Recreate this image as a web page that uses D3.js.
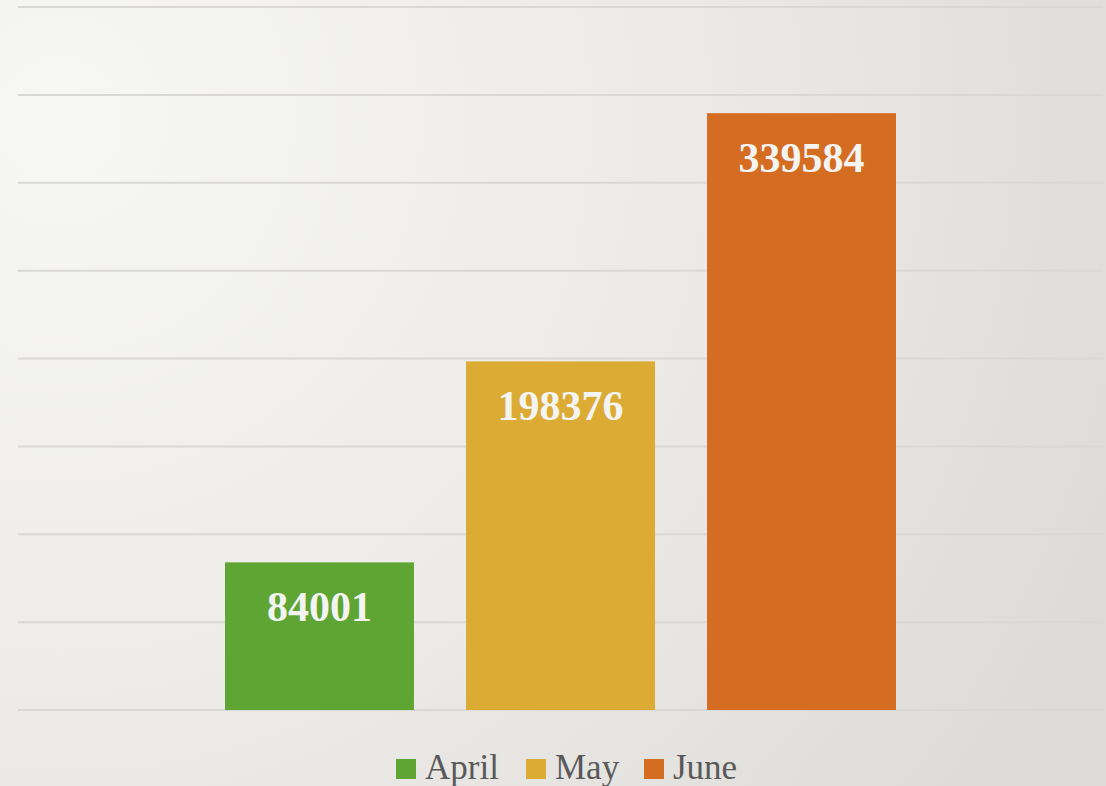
<!DOCTYPE html>
<html>
<head>
<meta charset="utf-8">
<script src="https://cdn.jsdelivr.net/npm/d3@7"></script>
<style>
  html, body { margin: 0; padding: 0; }
  body { width: 1106px; height: 786px; overflow: hidden; }
</style>
</head>
<body>
<div id="chart"></div>
<script>
// --- Data ---
const seriesNames = ["April", "May", "June"];
const seriesValues = [84001, 198376, 339584];
const seriesColors = ["#5fa533", "#dcab34", "#d46d22"];
const gridTicks = [0, 50000, 100000, 150000, 200000, 250000, 300000, 350000, 400000];

const width = 1106;
const height = 786;
const margin = { top: 7, right: 3, bottom: 76, left: 18 };
const fontFamily = "'Palatino Linotype', 'Book Antiqua', Palatino, 'Liberation Serif', 'DejaVu Serif', serif";

const svg = d3.select("#chart").append("svg")
    .attr("width", width)
    .attr("height", height);

// Background gradient (light top-left, greyer to the right)
const defs = svg.append("defs");
const bg = defs.append("radialGradient")
    .attr("id", "bg")
    .attr("gradientUnits", "userSpaceOnUse")
    .attr("cx", 60).attr("cy", 120).attr("r", 1150);
bg.append("stop").attr("offset", "0%").attr("stop-color", "#f7f7f5");
bg.append("stop").attr("offset", "55%").attr("stop-color", "#ebeae7");
bg.append("stop").attr("offset", "100%").attr("stop-color", "#dcdbd7");

svg.append("rect")
    .attr("width", width)
    .attr("height", height)
    .attr("fill", "url(#bg)");

const plotW = width - margin.left - margin.right;
const plotH = height - margin.top - margin.bottom;

const g = svg.append("g")
    .attr("transform", `translate(${margin.left},${margin.top})`);

const y = d3.scaleLinear()
    .domain([0, 400000])
    .range([plotH, 0]);

// one category, three series
const x0 = d3.scaleBand()
    .domain(["all"])
    .range([0, plotW])
    .paddingInner(0)
    .paddingOuter(0.3085);

const x1 = d3.scaleBand()
    .domain(seriesNames)
    .range([0, x0.bandwidth()])
    .paddingInner(0.216)
    .paddingOuter(0);

// gridlines
g.append("g")
    .selectAll("line")
    .data(gridTicks)
    .join("line")
    .attr("x1", 0)
    .attr("x2", plotW)
    .attr("y1", d => y(d))
    .attr("y2", d => y(d))
    .attr("stroke", "#d9d8d5")
    .attr("stroke-width", 2);

const bars = g.append("g")
    .attr("transform", `translate(${x0("all")},0)`)
    .selectAll("g")
    .data(seriesNames.map((name, i) => ({ name, value: seriesValues[i], color: seriesColors[i] })))
    .join("g");

bars.append("rect")
    .attr("x", d => x1(d.name))
    .attr("y", d => y(d.value))
    .attr("width", x1.bandwidth())
    .attr("height", d => y(0) - y(d.value))
    .attr("fill", d => d.color);

bars.append("text")
    .attr("x", d => x1(d.name) + x1.bandwidth() / 2)
    .attr("y", d => y(d.value) + 59)
    .attr("text-anchor", "middle")
    .attr("font-family", fontFamily)
    .attr("font-weight", "bold")
    .attr("font-size", 42)
    .attr("fill", "#f4f4f2")
    .text(d => d.value);

// legend
const legend = svg.append("g")
    .attr("transform", "translate(0,779)");

const legendX = [396, 526, 644];
const item = legend.selectAll("g")
    .data(seriesNames)
    .join("g")
    .attr("transform", (d, i) => `translate(${legendX[i]},0)`);

item.append("rect")
    .attr("x", 0)
    .attr("y", -20)
    .attr("width", 20)
    .attr("height", 20)
    .attr("fill", (d, i) => seriesColors[i]);

item.append("text")
    .attr("x", 29)
    .attr("y", 0)
    .attr("font-family", fontFamily)
    .attr("font-size", 35)
    .attr("fill", "#595959")
    .text(d => d);
</script>
</body>
</html>
